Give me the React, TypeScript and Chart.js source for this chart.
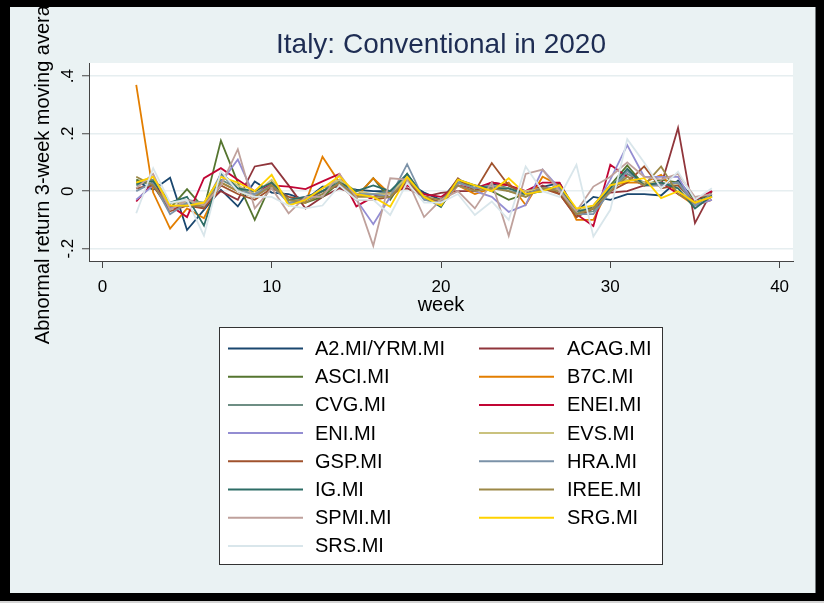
import React, { useEffect, useRef } from "react";
import { Chart, registerables } from "chart.js";

Chart.register(...registerables);

const weeks = [2, 3, 4, 5, 6, 7, 8, 9, 10, 11, 12, 13, 14, 15, 16, 17, 18, 19, 20, 21, 22, 23, 24, 25, 26, 27, 28, 29, 30, 31, 32, 33, 34, 35, 36];

const seriesNames = [
  "A2.MI/YRM.MI", "ACAG.MI", "ASCI.MI", "B7C.MI", "CVG.MI", "ENEI.MI", "ENI.MI", "EVS.MI",
  "GSP.MI", "HRA.MI", "IG.MI", "IREE.MI", "SPMI.MI", "SRG.MI", "SRS.MI",
];

const a2 = [0.035, 0.005, 0.047, -0.135, -0.065, 0.005, -0.053, 0.034, -0.005, -0.01, -0.03, 0.016, 0.015, 0.005, 0.0, 0.0, 0.03, -0.005, -0.03, 0.04, 0.01, 0.025, 0.01, 0.0, 0.015, 0.028, -0.07, -0.02, -0.03, -0.01, -0.01, -0.015, 0.037, -0.03, -0.015];
const acag = [0.01, 0.02, -0.06, -0.05, -0.05, 0.0, -0.03, 0.086, 0.097, 0.02, -0.06, -0.02, 0.01, -0.01, -0.02, 0.0, 0.01, -0.02, -0.006, 0.0, 0.0, 0.03, 0.02, -0.01, 0.02, -0.01, -0.09, -0.05, -0.005, 0.0, 0.02, 0.02, 0.22, -0.111, 0.0];
const asci = [0.04, 0.02, -0.06, 0.007, -0.06, 0.176, 0.03, -0.1, 0.03, -0.04, -0.04, -0.02, 0.03, -0.02, 0.045, -0.03, 0.06, -0.02, -0.04, 0.03, 0.02, 0.0, -0.03, -0.01, 0.01, 0.0, -0.08, -0.05, 0.02, 0.09, 0.02, 0.04, 0.03, -0.03, -0.01];
const b7c = [0.37, -0.005, -0.13, -0.06, -0.094, 0.03, 0.0, -0.02, 0.03, -0.03, -0.04, 0.12, 0.03, -0.02, 0.045, -0.01, 0.03, -0.02, -0.05, 0.02, -0.01, 0.01, 0.03, -0.048, 0.05, 0.02, -0.1, -0.1, 0.02, 0.03, 0.03, 0.057, -0.01, -0.05, -0.03];
const cvg = [0.02, 0.04, -0.04, -0.03, -0.04, 0.04, 0.01, -0.01, 0.02, -0.03, -0.03, 0.0, 0.04, -0.01, -0.01, 0.0, 0.05, -0.03, -0.04, 0.03, 0.01, 0.02, 0.0, -0.01, 0.0, 0.02, -0.08, -0.07, 0.0, 0.06, 0.03, 0.02, 0.03, -0.04, -0.02];
const enei = [-0.036, 0.03, -0.05, -0.09, 0.045, 0.08, 0.04, 0.0, 0.02, 0.016, 0.007, 0.034, 0.06, -0.053, -0.02, -0.01, 0.02, -0.01, -0.02, 0.02, 0.01, 0.03, 0.02, 0.0, 0.03, 0.03, -0.08, -0.121, 0.092, 0.05, 0.02, 0.03, -0.01, -0.03, 0.0];
const eni = [-0.03, 0.02, -0.06, -0.04, -0.06, 0.03, 0.11, -0.02, 0.02, -0.03, -0.02, 0.0, 0.03, -0.03, -0.115, -0.02, 0.04, -0.02, -0.04, 0.02, 0.0, -0.02, -0.072, -0.048, 0.075, 0.01, -0.08, -0.06, 0.04, 0.16, 0.05, 0.05, 0.05, -0.05, -0.03];
const evs = [0.03, 0.05, -0.04, -0.04, -0.04, 0.05, 0.02, -0.01, 0.04, -0.03, -0.03, 0.01, 0.04, 0.0, -0.01, -0.01, 0.05, -0.02, -0.04, 0.03, 0.01, 0.02, 0.01, 0.0, 0.01, 0.01, -0.07, -0.05, 0.02, 0.04, 0.03, 0.03, 0.02, -0.04, -0.02];
const gsp = [0.01, 0.02, -0.07, -0.05, -0.06, 0.02, -0.01, -0.03, 0.01, -0.02, -0.03, 0.0, 0.02, -0.03, -0.03, -0.02, 0.03, -0.02, -0.04, 0.045, 0.0, 0.098, 0.02, -0.01, 0.01, -0.01, -0.09, -0.06, 0.0, 0.03, 0.086, 0.01, 0.02, -0.04, -0.02];
const hra = [0.0, 0.03, -0.08, -0.04, -0.05, 0.06, 0.0, -0.01, 0.02, -0.04, -0.03, -0.01, 0.03, -0.01, -0.01, -0.02, 0.094, -0.03, -0.04, 0.03, 0.01, 0.02, 0.0, -0.01, 0.01, 0.01, -0.08, -0.08, 0.0, 0.07, 0.02, 0.02, 0.03, -0.05, -0.01];
const ig = [0.025, 0.035, -0.04, -0.02, -0.12, 0.065, 0.01, 0.0, 0.03, -0.03, -0.02, 0.0, 0.03, 0.0, 0.02, 0.0, 0.06, -0.02, -0.055, 0.04, 0.02, 0.01, 0.01, -0.01, 0.0, 0.02, -0.07, -0.06, 0.01, 0.078, 0.02, 0.03, 0.01, -0.06, -0.015];
const iree = [0.05, 0.02, -0.05, -0.05, -0.05, 0.03, 0.0, -0.02, 0.02, -0.03, -0.04, -0.01, 0.03, -0.02, -0.02, -0.02, 0.04, -0.02, -0.03, 0.02, 0.0, 0.01, 0.0, -0.02, 0.01, 0.0, -0.08, -0.06, 0.0, 0.05, 0.02, 0.086, -0.01, -0.04, -0.02];
const spmi = [0.01, 0.06, -0.065, -0.03, -0.05, 0.02, 0.146, -0.06, 0.01, -0.077, -0.02, -0.02, 0.06, -0.02, -0.19, 0.045, 0.04, -0.09, -0.03, 0.0, -0.06, 0.03, -0.155, 0.06, 0.075, 0.0, -0.07, 0.016, 0.05, 0.1, 0.05, 0.04, 0.06, -0.02, -0.01];
const srg = [0.03, 0.05, -0.05, -0.05, -0.04, 0.05, 0.03, 0.0, 0.057, -0.05, -0.03, 0.01, 0.052, -0.01, -0.02, -0.054, 0.05, -0.02, -0.05, 0.04, 0.02, 0.0, 0.045, -0.01, 0.0, 0.02, -0.06, -0.05, 0.02, 0.035, 0.045, -0.024, 0.0, -0.04, -0.02];
const srs = [-0.077, 0.08, -0.04, -0.03, -0.155, 0.07, 0.0, -0.02, -0.02, -0.05, -0.06, -0.05, 0.02, -0.03, -0.03, -0.083, 0.03, -0.04, -0.04, -0.01, -0.083, -0.036, -0.1, 0.086, 0.0, -0.02, 0.092, -0.158, -0.065, 0.181, 0.1, 0.01, 0.068, -0.03, 0.01];

const seriesValues = [a2, acag, asci, b7c, cvg, enei, eni, evs, gsp, hra, ig, iree, spmi, srg, srs];

const seriesColors = [
  "#1a476f", "#90353b", "#55752f", "#e37e00", "#6e8e84", "#c10534", "#938dd2", "#cac27e",
  "#a0522d", "#7b92a8", "#2d6d66", "#9c8847", "#bfa19c", "#ffd200", "#d9e6eb",
];

const xTicks = [0, 10, 20, 30, 40];
const xTickLabels = ["0", "10", "20", "30", "40"];
const yTicks = [-0.2, 0, 0.2, 0.4];
const yTickLabels = ["-.2", "0", ".2", ".4"];

const titleText = "Italy: Conventional in 2020";
const xTitleText = "week";
const yTitleText = "Abnormal return 3-week moving average";

const FONT = '"Liberation Sans", Arial, Helvetica, sans-serif';

const stataPlugin = {
  id: "stataLook",
  beforeDraw(chart: any) {
    const { ctx, width, height, chartArea: ca } = chart;
    ctx.save();
    ctx.fillStyle = "#000000";
    ctx.fillRect(0, 0, width, height);
    ctx.fillStyle = "#d4d4d4";
    ctx.fillRect(0, 601, width, 2);
    ctx.fillStyle = "#eaf2f3";
    ctx.fillRect(10, 7, 805.5, 586);
    ctx.fillStyle = "#ffffff";
    ctx.fillRect(ca.left, ca.top, ca.right - ca.left, ca.bottom - ca.top);
    ctx.restore();
  },
  afterDraw(chart: any) {
    const { ctx, chartArea: ca } = chart;
    const xs = chart.scales.x;
    const ys = chart.scales.y;
    ctx.save();
    ctx.beginPath();
    ctx.rect(10, 7, 805.5, 586);
    ctx.clip();

    ctx.fillStyle = "#1e2d53";
    ctx.font = `28px ${FONT}`;
    ctx.textAlign = "center";
    ctx.textBaseline = "alphabetic";
    ctx.fillText(titleText, (ca.left + ca.right) / 2, 53);

    ctx.fillStyle = "#000000";
    ctx.font = `17px ${FONT}`;
    xTicks.forEach((v, i) => {
      ctx.fillText(xTickLabels[i], xs.getPixelForValue(v), 292);
    });

    ctx.font = `20px ${FONT}`;
    ctx.fillText(xTitleText, (ca.left + ca.right) / 2, 311);

    ctx.font = `17px ${FONT}`;
    yTicks.forEach((v, i) => {
      ctx.save();
      ctx.translate(73, ys.getPixelForValue(v));
      ctx.rotate(-Math.PI / 2);
      ctx.textAlign = "center";
      ctx.textBaseline = "alphabetic";
      ctx.fillText(yTickLabels[i], 0, 0);
      ctx.restore();
    });

    ctx.save();
    ctx.font = `20px ${FONT}`;
    ctx.translate(43, (ca.top + ca.bottom) / 2 + 1.5);
    ctx.rotate(-Math.PI / 2);
    ctx.textAlign = "center";
    ctx.textBaseline = "middle";
    ctx.fillText(yTitleText, 0, 0);
    ctx.restore();

    const bx = 219.5, by = 327.5, bw = 443, bh = 237;
    ctx.fillStyle = "#ffffff";
    ctx.fillRect(bx, by, bw, bh);
    ctx.strokeStyle = "#333333";
    ctx.lineWidth = 1;
    ctx.strokeRect(bx, by, bw, bh);
    const colLine = [[228, 303], [479, 554]];
    const colText = [315, 567];
    ctx.font = `20px ${FONT}`;
    ctx.textAlign = "left";
    ctx.textBaseline = "middle";
    chart.data.datasets.forEach((ds: any, i: number) => {
      const col = i % 2;
      const row = Math.floor(i / 2);
      const y = 348.5 + row * 28.2;
      ctx.strokeStyle = ds.borderColor;
      ctx.lineWidth = 2;
      ctx.beginPath();
      ctx.moveTo(colLine[col][0], y);
      ctx.lineTo(colLine[col][1], y);
      ctx.stroke();
      ctx.fillStyle = "#000000";
      ctx.fillText(ds.label, colText[col], y + 1);
    });
    ctx.restore();
  },
};

export default function App() {
  const ref = useRef<HTMLCanvasElement | null>(null);
  useEffect(() => {
    document.body.style.margin = "0";
    const canvas = ref.current;
    if (!canvas) return;
    const n = seriesNames.length;
    const datasets = seriesNames.map((name, i) => ({
      label: name,
      data: weeks.map((w, j) => ({ x: w, y: seriesValues[i][j] })),
      borderColor: seriesColors[i],
      backgroundColor: seriesColors[i],
      borderWidth: 1.8,
      pointRadius: 0,
      tension: 0,
      fill: false,
      order: n - i,
    }));
    const chart = new Chart(canvas, {
      type: "line",
      data: { datasets },
      options: {
        animation: false,
        responsive: false,
        devicePixelRatio: 1,
        layout: { padding: { top: 63, right: 31, left: 0, bottom: 0 } },
        plugins: { legend: { display: false }, title: { display: false }, tooltip: { enabled: false } },
        scales: {
          x: {
            type: "linear",
            min: -0.79,
            max: 40.79,
            afterBuildTicks: (s: any) => { s.ticks = xTicks.map((v) => ({ value: v })); },
            afterFit: (s: any) => { s.height = 342; },
            ticks: { display: false },
            grid: { drawOnChartArea: false, drawTicks: true, tickLength: 7, tickColor: "#444444", tickWidth: 1 },
            border: { display: true, color: "#444444", width: 1 },
          },
          y: {
            type: "linear",
            min: -0.243,
            max: 0.446,
            afterBuildTicks: (s: any) => { s.ticks = yTicks.map((v) => ({ value: v })); },
            afterFit: (s: any) => { s.width = 89; },
            ticks: { display: false },
            grid: { drawOnChartArea: true, color: "#e6eef0", lineWidth: 1.5, drawTicks: true, tickLength: 7, tickColor: "#444444", tickWidth: 1 },
            border: { display: true, color: "#444444", width: 1 },
          },
        },
      },
      plugins: [stataPlugin],
    } as any);
    return () => chart.destroy();
  }, []);
  return <canvas ref={ref} width={824} height={603} style={{ display: "block" }} />;
}
